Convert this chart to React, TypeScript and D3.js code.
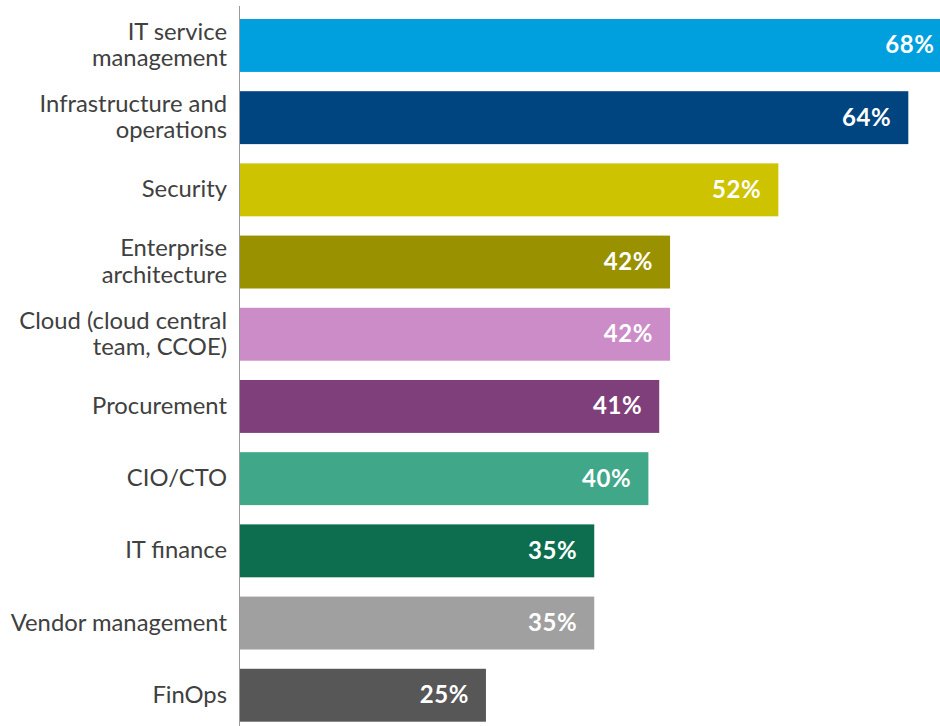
import React, { useEffect, useRef } from "react";
import * as d3 from "d3";

const categories: string[][] = [
  ["IT service", "management"],
  ["Infrastructure and", "operations"],
  ["Security"],
  ["Enterprise", "architecture"],
  ["Cloud (cloud central", "team, CCOE)"],
  ["Procurement"],
  ["CIO/CTO"],
  ["IT finance"],
  ["Vendor management"],
  ["FinOps"],
];
const values = [68, 64, 52, 42, 42, 41, 40, 35, 35, 25];
const colors = [
  "#00a0df",
  "#004580",
  "#cdc300",
  "#9a9100",
  "#cb8cc8",
  "#7f3f7a",
  "#40a789",
  "#0c6e4f",
  "#a0a0a0",
  "#575757",
];

export default function App() {
  const svgRef = useRef<SVGSVGElement>(null);

  useEffect(() => {
    const width = 940;
    const height = 726;
    const axisX = 239.5;

    const x = d3.scaleLinear().domain([0, 80]).range([215.2, 215.2 + 866.4]);
    const y = d3
      .scaleBand<number>()
      .domain(d3.range(values.length))
      .range([19, 721.7])
      .paddingInner(0.267)
      .paddingOuter(0);

    const svg = d3.select(svgRef.current).attr("width", width).attr("height", height);
    svg.selectAll("*").remove();

    svg
      .selectAll("rect.bar")
      .data(values)
      .join("rect")
      .attr("class", "bar")
      .attr("x", axisX)
      .attr("y", (d, i) => y(i)!)
      .attr("width", (d) => x(d) - axisX)
      .attr("height", y.bandwidth())
      .attr("fill", (d, i) => colors[i]);

    // value labels inside bars
    svg
      .selectAll("text.val")
      .data(values)
      .join("text")
      .attr("class", "val")
      .attr("x", (d) => x(d) - 17)
      .attr("y", (d, i) => y(i)! + y.bandwidth() / 2 + 8)
      .attr("text-anchor", "end")
      .attr("fill", "#ffffff")
      .attr("font-family", "Lato, sans-serif")
      .attr("font-weight", "bold")
      .attr("font-size", 24)
      .attr("letter-spacing", 0.6)
      .text((d) => `${d}%`);

    // category labels
    const lab = svg
      .selectAll("text.cat")
      .data(categories)
      .join("text")
      .attr("class", "cat")
      .attr("text-anchor", "end")
      .attr("fill", "#404040")
      .attr("font-family", "Lato, sans-serif")
      .attr("font-size", 23.8);

    lab.each(function (lines, i) {
      const cy = y(i)! + y.bandwidth() / 2 + 7.5;
      const lh = 26.5;
      const start = cy - ((lines.length - 1) * lh) / 2;
      d3.select(this)
        .selectAll("tspan")
        .data(lines)
        .join("tspan")
        .attr("x", 227)
        .attr("y", (l, j) => start + j * lh)
        .text((l) => l);
    });

    svg
      .append("line")
      .attr("x1", axisX)
      .attr("x2", axisX)
      .attr("y1", 6)
      .attr("y2", height)
      .attr("stroke", "#9a9a9a")
      .attr("stroke-width", 1);
  }, []);

  return (
    <svg
      ref={svgRef}
      style={{ position: "absolute", left: 0, top: 0, overflow: "hidden" }}
    ></svg>
  );
}
